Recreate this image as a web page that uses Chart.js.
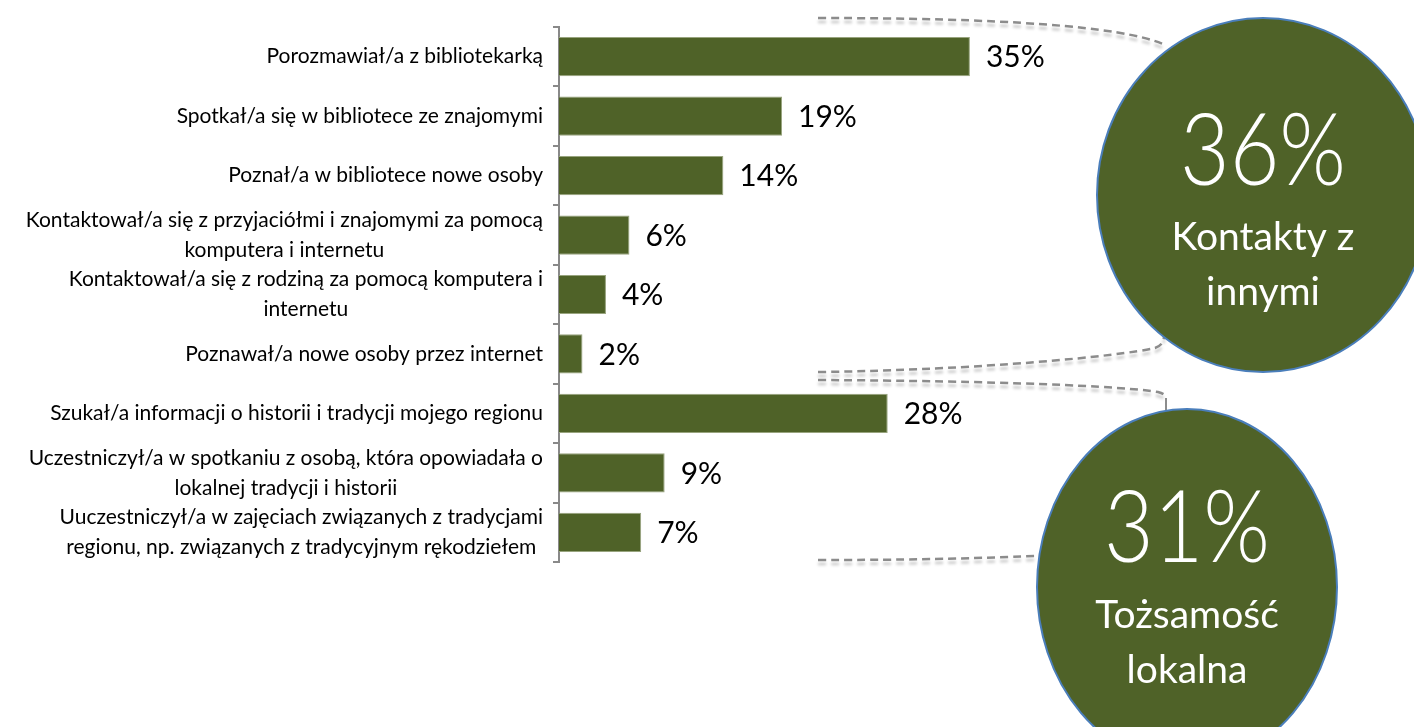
<!DOCTYPE html>
<html>
<head>
<meta charset="utf-8">
<script src="https://cdn.jsdelivr.net/npm/chart.js@4"></script>
<style>
  body { margin: 0; background: #fff; }
  #myChart { display: block; }
</style>
</head>
<body>
<canvas id="myChart" width="1414" height="727"></canvas>
<script>
// activities, top to bottom
const categories = [
    'Porozmawiał/a z bibliotekarką',
    'Spotkał/a się w bibliotece ze znajomymi',
    'Poznał/a w bibliotece nowe osoby',
    ['Kontaktował/a się z przyjaciółmi i znajomymi za pomocą', 'komputera i internetu'],
    ['Kontaktował/a się z rodziną za pomocą komputera i', 'internetu'],
    'Poznawał/a nowe osoby przez internet',
    'Szukał/a informacji o historii i tradycji mojego regionu',
    ['Uczestniczył/a w spotkaniu z osobą, która opowiadała o', 'lokalnej tradycji i historii'],
    ['Uuczestniczył/a w zajęciach związanych z tradycjami', 'regionu, np. związanych z tradycyjnym rękodziełem']
]
const values = [35, 19, 14, 6, 4, 2, 28, 9, 7]

// summary bubbles
const groupValues = [36, 31]
const groupLabels = [['Kontakty z', 'innymi'], ['Tożsamość', 'lokalna']]

const green = '#4f6228'
const axisGrey = '#898989'

// labels on the left, lines centred inside a right-aligned block
const categoryLabels = {
    id: 'categoryLabels',
    afterDraw(chart) {
        const ctx = chart.ctx
        const y = chart.scales.y
        ctx.save()
        ctx.font = '21px Lato'
        ctx.fillStyle = '#000'
        ctx.textBaseline = 'middle'
        ctx.textAlign = 'center'
        categories.forEach((c, i) => {
            const lines = Array.isArray(c) ? c : [c]
            const w = Math.max(...lines.map(l => ctx.measureText(l).width))
            const cx = y.right - 16 - w / 2
            const cy = y.getPixelForValue(i)
            lines.forEach((l, j) => {
                ctx.fillText(l, cx, cy + (j - (lines.length - 1) / 2) * 30)
            })
        })
        ctx.restore()
    }
}

// percentages right of each bar
const valueLabels = {
    id: 'valueLabels',
    afterDatasetsDraw(chart) {
        const ctx = chart.ctx
        const meta = chart.getDatasetMeta(0)
        ctx.save()
        ctx.font = '30px Lato'
        ctx.fillStyle = '#000'
        ctx.textAlign = 'left'
        ctx.textBaseline = 'middle'
        meta.data.forEach((bar, i) => {
            ctx.fillText(values[i] + '%', bar.x + 16, bar.y + 1)
        })
        ctx.restore()
    }
}

function dashed(ctx, draw) {
    ctx.save()
    ctx.strokeStyle = '#8c8c8c'
    ctx.lineWidth = 2.5
    ctx.setLineDash([8, 5])
    ctx.shadowColor = 'rgba(0,0,0,0.22)'
    ctx.shadowBlur = 3
    ctx.shadowOffsetY = 4
    ctx.beginPath()
    draw()
    ctx.stroke()
    ctx.restore()
}

function bubble(ctx, cx, cy, rx, ry, value, lines, baselines) {
    ctx.save()
    ctx.beginPath()
    ctx.ellipse(cx, cy, rx, ry, 0, 0, Math.PI * 2)
    ctx.fillStyle = green
    ctx.fill()
    ctx.strokeStyle = '#4a7ebb'
    ctx.lineWidth = 2
    ctx.stroke()

    ctx.fillStyle = '#fff'
    ctx.textAlign = 'center'
    ctx.textBaseline = 'alphabetic'
    ctx.font = '300 100px Lato'
    const txt = value + '%'
    const w = ctx.measureText(txt).width
    const sx = Math.min(1, 166 / w)
    ctx.save()
    ctx.translate(cx, baselines[0])
    ctx.scale(sx, 1)
    ctx.fillText(txt, 0, 0)
    ctx.restore()

    ctx.font = '39px Lato'
    lines.forEach((l, j) => ctx.fillText(l, cx, baselines[j + 1]))
    ctx.restore()
}

// brackets and the two summary bubbles
const groups = {
    id: 'groups',
    afterDraw(chart) {
        const ctx = chart.ctx
        dashed(ctx, () => {
            ctx.moveTo(818, 18)
            ctx.bezierCurveTo(1000, 18, 1120, 26, 1163, 44)
        })
        dashed(ctx, () => {
            ctx.moveTo(818, 372)
            ctx.bezierCurveTo(980, 370, 1120, 356, 1155, 348)
            ctx.quadraticCurveTo(1164, 345, 1164, 336)
        })
        dashed(ctx, () => {
            ctx.moveTo(818, 380)
            ctx.bezierCurveTo(1000, 381, 1120, 386, 1158, 392)
            ctx.quadraticCurveTo(1166, 394, 1166, 398)
        })
        ctx.save()
        ctx.strokeStyle = '#8c8c8c'
        ctx.lineWidth = 2
        ctx.beginPath()
        ctx.moveTo(1166, 398)
        ctx.lineTo(1166, 410)
        ctx.stroke()
        ctx.restore()
        dashed(ctx, () => {
            ctx.moveTo(818, 560)
            ctx.bezierCurveTo(950, 560, 1000, 557, 1037, 556)
        })

        bubble(ctx, 1263, 195, 166, 177, groupValues[0], groupLabels[0], [185, 250, 305])
        bubble(ctx, 1187, 587, 150, 178, groupValues[1], groupLabels[1], [562, 628, 683])
    }
}

const ctx = document.getElementById('myChart').getContext('2d')
const myChart = new Chart(ctx, {
    type: 'bar',
    data: {
        labels: categories,
        datasets: [{
            data: values,
            backgroundColor: green,
            borderColor: '#98a47e',
            borderWidth: 1,
            barPercentage: 0.66,
            categoryPercentage: 1
        }]
    },
    options: {
        indexAxis: 'y',
        responsive: false,
        animation: false,
        layout: { padding: { top: 27, bottom: 165, left: 0, right: 268 } },
        plugins: {
            legend: { display: false },
            tooltip: { enabled: false }
        },
        scales: {
            x: { display: false, min: 0, max: 50 },
            y: {
                grid: { offset: true, drawOnChartArea: false, tickLength: 6, color: axisGrey, lineWidth: 2 },
                border: { color: axisGrey, width: 2 },
                ticks: { callback: () => '' },
                afterFit(scale) { scale.width = 559 }
            }
        }
    },
    plugins: [categoryLabels, valueLabels, groups]
})
</script>
</body>
</html>
